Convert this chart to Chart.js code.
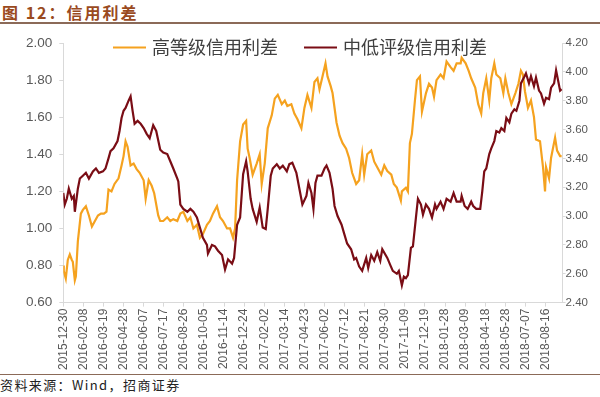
<!DOCTYPE html>
<html>
<head>
<meta charset="utf-8">
<script src="https://cdn.jsdelivr.net/npm/chart.js@4.4.1/dist/chart.umd.min.js"></script>
<style>
  html, body { margin: 0; padding: 0; background: #fff; }
  #quadro { position: relative; width: 600px; height: 397px; overflow: hidden; }
  #titulo {
    position: absolute; left: 0; top: 0; width: 598px; height: 22px;
    padding-left: 2px; line-height: 22px;
    border-bottom: 2px solid #8b6a58;
    font: bold 16px "Noto Sans CJK SC", sans-serif; letter-spacing: 2px; color: #9a4a1e;
  }
  #caixa { position: absolute; left: 0; top: 25px; width: 600px; height: 348px; }
  #fonte {
    position: absolute; left: 0; top: 374px; width: 600px; height: 22px;
    border-top: 1px solid #8b6a58; line-height: 21px;
    font: 13px "Noto Sans CJK SC", sans-serif; letter-spacing: 1.4px; color: #222;
  }
</style>
</head>
<body>
<div id="quadro">
  <div id="titulo">图 12：信用利差</div>
  <div id="caixa"><canvas id="graficoSpread" width="600" height="348"></canvas></div>
  <div id="fonte">资料来源：Wind，招商证券</div>
</div>
<script>
// dias contados a partir de 2015-12-30
const rotulosX = ['2015-12-30', '2016-02-08', '2016-03-19', '2016-04-28', '2016-06-07', '2016-07-17',
  '2016-08-26', '2016-10-05', '2016-11-14', '2016-12-24', '2017-02-02', '2017-03-14', '2017-04-23',
  '2017-06-02', '2017-07-12', '2017-08-21', '2017-09-30', '2017-11-09', '2017-12-19', '2018-01-28',
  '2018-03-09', '2018-04-18', '2018-05-28', '2018-07-07', '2018-08-16'];

const nomes = ['高等级信用利差', '中低评级信用利差'];

// 高等级 (eixo esquerdo)
const diasAlto = [0,1,5,9,13,17,19,23,25,29,35,39,45,51,57,63,69,75,81,86,90,96,102,110,116,120,124,128,134,140,
  146,152,160,164,170,176,181,189,193,199,207,213,219,227,233,239,247,253,259,266,272,278,286,292,298,306,312,318,
  326,332,338,342,346,352,358,364,367,371,377,385,391,395,401,407,415,421,427,435,441,446,454,460,466,474,480,486,
  494,500,506,510,516,522,526,532,536,544,550,556,563,569,575,583,589,595,599,605,613,619,625,633,639,645,653,658,
  664,672,674,682,686,690,694,700,704,710,714,722,728,734,738,743,751,757,763,771,777,783,791,793,801,807,812,820,
  826,832,836,842,848,852,858,862,870,876,880,886,892,900,906,911,915,919,925,931,937,941,949,955,959,961,967,971,
  979,983,989,992];
const valoresAlto = [0.80,0.77,0.73,0.83,0.86,0.83,0.82,0.72,0.74,0.93,1.08,1.10,1.12,1.07,1.01,1.04,1.07,1.08,1.08,1.09,
  1.21,1.20,1.24,1.27,1.34,1.39,1.47,1.44,1.34,1.35,1.32,1.30,1.26,1.16,1.26,1.23,1.19,1.07,1.04,1.04,1.06,1.04,1.05,
  1.04,1.08,1.09,1.04,1.06,1.00,1.02,0.95,0.97,1.02,1.04,1.08,1.12,1.06,1.04,1.00,1.00,0.95,1.00,1.26,1.47,1.56,1.58,
  1.43,1.38,1.29,1.35,1.40,1.24,1.35,1.54,1.61,1.70,1.72,1.67,1.69,1.66,1.67,1.62,1.59,1.54,1.65,1.72,1.65,1.79,1.81,
  1.75,1.82,1.89,1.82,1.77,1.73,1.57,1.50,1.46,1.43,1.38,1.30,1.24,1.26,1.40,1.29,1.40,1.42,1.36,1.33,1.29,1.34,1.31,
  1.29,1.24,1.22,1.15,1.20,1.22,1.20,1.46,1.51,1.69,1.80,1.82,1.63,1.73,1.78,1.76,1.71,1.80,1.83,1.81,1.90,1.87,1.85,
  1.89,1.89,1.92,1.89,1.85,1.81,1.76,1.67,1.62,1.73,1.81,1.69,1.81,1.89,1.83,1.81,1.73,1.81,1.73,1.67,1.73,1.78,1.85,
  1.83,1.74,1.65,1.69,1.60,1.48,1.47,1.33,1.20,1.33,1.27,1.38,1.49,1.42,1.39,1.39];

// 中低评级 (eixo direito)
const diasBaixo = [0,3,7,11,17,21,23,29,33,39,45,51,59,65,71,79,84,90,94,100,108,112,116,120,124,130,134,138,142,148,
  154,160,166,172,179,185,193,199,207,213,219,227,229,233,239,247,253,259,266,272,278,286,288,296,302,308,316,322,
  328,336,340,346,352,358,364,367,373,377,385,391,397,403,407,413,417,425,431,437,445,450,456,464,470,476,484,488,
  494,498,502,506,514,520,524,530,536,540,546,554,559,565,573,579,583,589,595,603,607,613,619,625,631,635,645,651,
  656,664,668,674,678,682,686,692,696,702,706,712,716,722,728,734,740,743,751,757,763,771,777,783,791,793,799,805,
  812,816,822,830,834,838,842,848,852,858,862,868,872,878,882,888,892,898,902,908,911,917,921,927,931,937,941,947,
  951,957,961,967,971,977,981,985,989,992];
const valoresBaixo = [3.16,3.08,3.12,3.19,3.12,3.14,3.03,3.19,3.26,3.28,3.30,3.26,3.31,3.33,3.30,3.31,3.33,3.40,3.45,
  3.47,3.52,3.59,3.68,3.73,3.75,3.80,3.83,3.73,3.64,3.66,3.64,3.61,3.57,3.54,3.63,3.59,3.46,3.44,3.43,3.38,3.33,3.26,
  3.24,3.08,3.05,3.03,3.05,3.03,2.99,2.92,2.85,2.80,2.74,2.80,2.79,2.76,2.73,2.63,2.70,2.67,2.71,2.94,2.99,3.29,3.38,
  3.31,3.12,3.05,2.96,3.06,2.92,2.91,3.05,3.28,3.33,3.36,3.33,3.35,3.31,3.36,3.37,3.30,3.19,3.08,3.14,3.23,3.16,3.05,
  3.23,3.28,3.28,3.33,3.35,3.30,3.19,3.07,3.00,2.94,2.88,2.81,2.77,2.70,2.71,2.65,2.62,2.71,2.64,2.73,2.69,2.75,2.69,
  2.77,2.71,2.66,2.62,2.60,2.62,2.52,2.58,2.57,2.59,2.78,2.79,2.99,3.12,3.08,3.01,3.08,3.05,2.99,3.08,3.05,3.10,3.05,
  3.12,3.10,3.16,3.10,3.10,3.14,3.07,3.05,3.10,3.07,3.05,3.05,3.17,3.31,3.33,3.43,3.47,3.52,3.59,3.58,3.61,3.59,3.68,
  3.65,3.71,3.74,3.73,3.80,3.92,3.96,3.99,3.92,3.97,3.90,3.96,3.87,3.85,3.78,3.82,3.81,3.89,3.92,4.01,3.94,3.87,3.88];

const corAlto = '#f5a21f';
const corBaixo = '#7a0d15';
const cinza = '#d9d9d9';
const corTexto = '#595959';

function pontos(dias, valores) {
    return dias.map((d, i) => ({ x: d, y: valores[i] }));
}

// legenda desenhada por cima da area do grafico, centrada na largura toda
const legendaTopo = {
    id: 'legendaTopo',
    beforeDatasetsDraw(chart) {
        const c = chart.ctx;
        const traco = 33, folga = 6, entre = 26;
        c.save();
        c.font = '18px "Noto Sans CJK SC"';
        const larguras = chart.data.datasets.map(ds => traco + folga + c.measureText(ds.label).width);
        const total = larguras.reduce((a, b) => a + b, 0) + entre * (larguras.length - 1);
        let x = (chart.width - total) / 2;
        const y = chart.chartArea.top + 4.5;
        chart.data.datasets.forEach((ds, i) => {
            c.strokeStyle = ds.borderColor;
            c.lineWidth = 2.2;
            c.beginPath();
            c.moveTo(x, y);
            c.lineTo(x + traco, y);
            c.stroke();
            c.fillStyle = '#404040';
            c.textBaseline = 'middle';
            c.fillText(ds.label, x + traco + folga, y);
            x += larguras[i] + entre;
        });
        c.restore();
    }
};

const ctx = document.getElementById('graficoSpread');

new Chart(ctx, {
    type: 'line',
    data: {
        datasets: [{
            label: nomes[0],
            data: pontos(diasAlto, valoresAlto),
            borderColor: corAlto,
            backgroundColor: corAlto,
            borderWidth: 2.2,
            pointRadius: 0,
            yAxisID: 'y',
            order: 1
        }, {
            label: nomes[1],
            data: pontos(diasBaixo, valoresBaixo),
            borderColor: corBaixo,
            backgroundColor: corBaixo,
            borderWidth: 2.2,
            pointRadius: 0,
            yAxisID: 'y1',
            order: 0
        }]
    },
    options: {
        responsive: false,
        animation: false,
        layout: { padding: { left: 19, right: 12, top: 18, bottom: 1 } },
        plugins: {
            tooltip: { enabled: false },
            legend: { display: false }
        },
        scales: {
            x: {
                type: 'linear',
                min: 0,
                max: 994,
                grid: { drawOnChartArea: false, tickLength: 4, color: cinza },
                border: { color: cinza },
                ticks: {
                    stepSize: 40,
                    includeBounds: false,
                    autoSkip: false,
                    minRotation: 90,
                    maxRotation: 90,
                    padding: 2,
                    color: corTexto,
                    font: { family: '"Liberation Sans"', size: 12 },
                    callback: (v) => rotulosX[v / 40] || ''
                }
            },
            y: {
                position: 'left',
                min: 0.6,
                max: 2.0,
                grid: { drawOnChartArea: false, tickLength: 4, color: cinza },
                border: { color: cinza },
                ticks: {
                    stepSize: 0.2,
                    padding: 7,
                    color: corTexto,
                    font: { family: '"Liberation Sans"', size: 13.5 },
                    callback: (v) => Number(v).toFixed(2)
                }
            },
            y1: {
                position: 'right',
                min: 2.4,
                max: 4.2,
                grid: { drawOnChartArea: false, tickLength: 3, color: cinza },
                border: { color: cinza },
                ticks: {
                    stepSize: 0.2,
                    padding: 0,
                    color: corTexto,
                    font: { family: '"Liberation Sans"', size: 11.5 },
                    callback: (v) => Number(v).toFixed(2)
                }
            }
        }
    },
    plugins: [legendaTopo]
});
</script>
</body>
</html>
